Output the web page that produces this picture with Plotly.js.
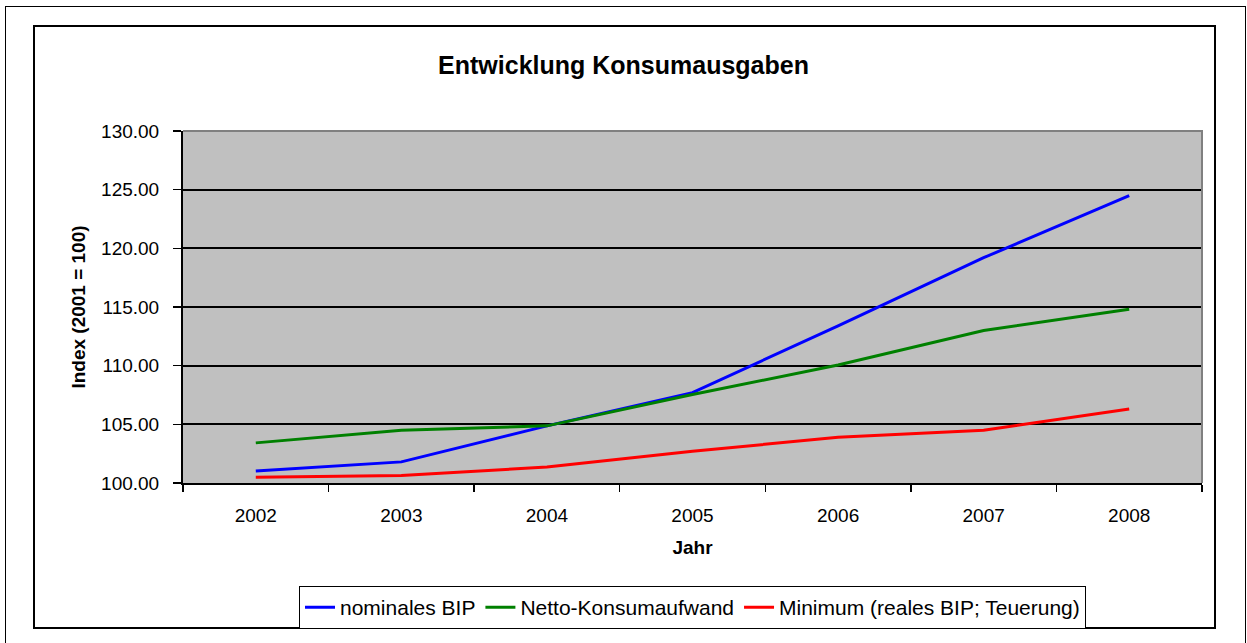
<!DOCTYPE html>
<html>
<head>
<meta charset="utf-8">
<script src="https://cdn.plot.ly/plotly-3.0.1.min.js"></script>
<style>
  html, body { margin: 0; padding: 0; background: #ffffff; }
  #wrap { position: relative; width: 1247px; height: 643px; overflow: hidden; }
  #outer { position: absolute; left: 5px; top: 6px; width: 1241px; height: 660px; border: 1.5px solid #000; box-sizing: border-box; }
  #inner { position: absolute; left: 33px; top: 25px; width: 1183px; height: 604px; border: 2px solid #000; box-sizing: border-box; }
  #chart { position: absolute; left: 0; top: 0; width: 1247px; height: 643px; }
</style>
</head>
<body>
<div id="wrap">
  <div id="outer"></div>
  <div id="inner"></div>
  <div id="chart"></div>
</div>
<script>
const years = ['2002', '2003', '2004', '2005', '2006', '2007', '2008'];
const nominalesBIP = [101.03, 101.8, 104.87, 107.7, 113.4, 119.2, 124.5];
const nettoKonsum = [103.42, 104.5, 104.87, 107.55, 110.05, 113.0, 114.8];
const minimumReal = [100.49, 100.63, 101.37, 102.7, 103.9, 104.5, 106.3];
const yTicks = [100, 105, 110, 115, 120, 125, 130];

const FONT = '"Liberation Sans", Arial, "DejaVu Sans", sans-serif';

const traces = [
  { x: years, y: nominalesBIP, name: 'nominales BIP', type: 'scatter', mode: 'lines',
    line: { color: '#0000FF', width: 3 } },
  { x: years, y: nettoKonsum, name: 'Netto-Konsumaufwand', type: 'scatter', mode: 'lines',
    line: { color: '#008000', width: 3 } },
  { x: years, y: minimumReal, name: 'Minimum (reales BIP; Teuerung)', type: 'scatter', mode: 'lines',
    line: { color: '#FF0000', width: 3 } }
];

const layout = {
  width: 1247, height: 643,
  margin: { l: 183, r: 45, t: 131, b: 160 },
  paper_bgcolor: 'rgba(0,0,0,0)',
  plot_bgcolor: '#C0C0C0',
  font: { family: FONT, color: '#000', size: 19 },
  title: { text: 'Entwicklung Konsumausgaben', font: { family: FONT, size: 25, weight: 'bold', color: '#000' },
           x: 0.5, xanchor: 'center', y: 1 - 65/643, yanchor: 'middle', xref: 'container', yref: 'container' },
  showlegend: true,
  legend: { orientation: 'h', x: 0.5, xanchor: 'center', y: -0.293, yanchor: 'top',
            bordercolor: '#000', borderwidth: 1, bgcolor: '#fff',
            font: { family: FONT, size: 21, color: '#000' }, itemwidth: 30, tracegroupgap: 0 },
  xaxis: {
    type: 'category', range: [-0.5, 6.5], tickson: 'boundaries', ticks: 'outside', ticklen: 7, tickwidth: 1.5, tickcolor: '#000',
    showline: true, linecolor: '#000', linewidth: 2, showgrid: false, zeroline: false,
    tickfont: { family: FONT, size: 19, color: '#000' }, ticklabelstandoff: 14,
    title: { text: 'Jahr', font: { family: FONT, size: 19, weight: 'bold', color: '#000' }, standoff: 16 },
    fixedrange: true
  },
  yaxis: {
    range: [100, 130], tickvals: yTicks, tickformat: '.2f',
    ticks: 'outside', ticklen: 8, tickwidth: 1.5, tickcolor: '#000',
    showline: true, linecolor: '#000', linewidth: 2,
    showgrid: true, gridcolor: '#000', gridwidth: 2, zeroline: false,
    tickfont: { family: FONT, size: 19, color: '#000' }, ticklabelstandoff: 10,
    title: { text: 'Index (2001 = 100)', font: { family: FONT, size: 19, weight: 'bold', color: '#000' }, standoff: 10 },
    fixedrange: true
  },
  shapes: [
    { type: 'path', xref: 'paper', yref: 'paper', path: 'M 0 1 L 1 1 L 1 0',
      line: { color: '#808080', width: 2 }, layer: 'above' }
  ]
};

Plotly.newPlot('chart', traces, layout, { displayModeBar: false, staticPlot: true });
</script>
</body>
</html>
